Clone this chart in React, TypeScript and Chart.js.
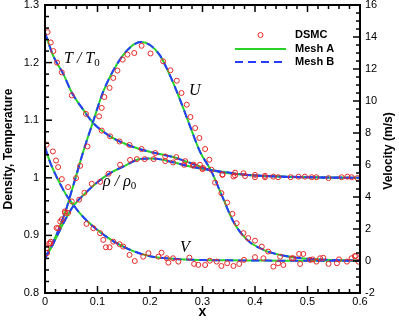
import React, { useEffect, useRef } from 'react';
import { Chart, registerables } from 'chart.js';
Chart.register(...registerables);

// ---- axis ticks ----
const xTicks = [0, 0.1, 0.2, 0.3, 0.4, 0.5, 0.6];
const leftTicks = [0.8, 0.9, 1.0, 1.1, 1.2, 1.3];
const rightTicks = [-2, 0, 2, 4, 6, 8, 10, 12, 14, 16];

// ---- Mesh curves ----
const tX = [0, 0.016, 0.035, 0.051, 0.073, 0.092, 0.124, 0.15, 0.181, 0.21, 0.244, 0.27, 0.31, 0.35, 0.4, 0.45, 0.5, 0.55, 0.6];
const tLine = [1.252, 1.211, 1.18, 1.148, 1.118, 1.095, 1.072, 1.06, 1.0496, 1.043, 1.036, 1.028, 1.015, 1.009, 1.004, 1.0023, 1.001, 1.0003, 1.0];

const rX = [0, 0.016, 0.035, 0.054, 0.073, 0.098, 0.124, 0.15, 0.181, 0.2, 0.22, 0.244, 0.27, 0.31, 0.35, 0.4, 0.45, 0.5, 0.6];
const rLine = [0.86, 0.886, 0.921, 0.951, 0.97, 0.991, 1.008, 1.02, 1.0325, 1.0335, 1.032, 1.027, 1.021, 1.014, 1.008, 1.004, 1.002, 1.001, 1.0];

const uX = [0, 0.01, 0.02, 0.03, 0.041, 0.05, 0.06, 0.073, 0.092, 0.111, 0.137, 0.162, 0.183, 0.2, 0.219, 0.238, 0.257, 0.276, 0.295, 0.317, 0.34, 0.359, 0.384, 0.416, 0.448, 0.479, 0.51, 0.543, 0.6];
const uLine = [0.2, 0.8, 1.5, 2.3, 3.3, 4.3, 5.4, 6.85, 8.75, 10.6, 12.3, 13.35, 13.68, 13.5, 12.85, 11.6, 10.1, 8.45, 6.85, 5.6, 3.85, 2.45, 1.35, 0.7, 0.38, 0.21, 0.12, 0.07, 0.03];

const vX = [0, 0.01, 0.02, 0.03, 0.04, 0.054, 0.07, 0.092, 0.118, 0.143, 0.168, 0.2, 0.25, 0.3, 0.35, 0.4, 0.45, 0.5, 0.55, 0.6];
const vLine = [7.1, 6.15, 5.4, 4.75, 4.15, 3.5, 2.85, 2.15, 1.49, 1.0, 0.62, 0.3, 0.12, 0.06, 0.04, 0.03, 0.02, 0.02, 0.01, 0.01];

// ---- DSMC points ----
const tDsmcX = [0.005, 0.011, 0.016, 0.023, 0.032, 0.051, 0.078, 0.108, 0.124, 0.142, 0.161, 0.184, 0.21, 0.229, 0.25, 0.267, 0.283, 0.301, 0.317, 0.338, 0.362, 0.378, 0.4, 0.419, 0.435, 0.468, 0.495, 0.517, 0.565, 0.584];
const tDsmc = [1.253, 1.235, 1.22, 1.2, 1.183, 1.143, 1.111, 1.082, 1.072, 1.063, 1.057, 1.05, 1.043, 1.037, 1.036, 1.029, 1.023, 1.017, 1.014, 1.006, 1.009, 1.008, 1.005, 1.0035, 1.002, 1.001, 1.002, 1.001, 1.001, 1.001];

const rDsmcX = [0.003, 0.008, 0.011, 0.022, 0.029, 0.038, 0.044, 0.065, 0.075, 0.089, 0.105, 0.121, 0.143, 0.162, 0.175, 0.19, 0.207, 0.229, 0.244, 0.265, 0.282, 0.295, 0.3, 0.338, 0.359, 0.362, 0.381, 0.4, 0.419, 0.444, 0.483, 0.508, 0.54, 0.576, 0.595];
const rDsmc = [0.878, 0.886, 0.889, 0.913, 0.924, 0.939, 0.939, 0.962, 0.974, 0.9896, 0.993, 1.007, 1.0226, 1.031, 1.0325, 1.0325, 1.0325, 1.029, 1.0266, 1.0226, 1.021, 1.0226, 1.015, 1.005, 1.0023, 1.004, 1.003, 1.001, 1.001, 1.001, 1.002, 1.001, 0.9995, 1.002, 0.9995];

const uDsmcX = [0.004, 0.01, 0.025, 0.032, 0.038, 0.059, 0.067, 0.081, 0.103, 0.108, 0.113, 0.123, 0.13, 0.138, 0.148, 0.157, 0.17, 0.184, 0.201, 0.225, 0.239, 0.251, 0.26, 0.27, 0.277, 0.286, 0.294, 0.305, 0.313, 0.324, 0.336, 0.347, 0.357, 0.365, 0.378, 0.387, 0.4, 0.413, 0.425, 0.448, 0.47, 0.484, 0.492, 0.51, 0.53, 0.56, 0.59];
const uDsmc = [0.5, 1.1, 2.05, 2.6, 3.1, 5.18, 5.95, 7.16, 9.04, 9.57, 10.25, 10.82, 11.44, 11.9, 12.59, 12.9, 13.0, 13.45, 12.97, 12.48, 11.92, 11.27, 10.5, 9.77, 9.0, 8.31, 7.69, 7.0, 6.33, 4.9, 4.24, 3.65, 2.95, 2.36, 1.74, 1.43, 1.27, 0.9, 0.59, 0.27, 0.17, 0.44, 0.44, 0.1, 0.2, 0.1, 0.3];

const vDsmcX = [0.003, 0.015, 0.021, 0.025, 0.032, 0.044, 0.051, 0.079, 0.092, 0.105, 0.111, 0.116, 0.123, 0.13, 0.142, 0.149, 0.161, 0.171, 0.187, 0.197, 0.216, 0.222, 0.232, 0.235, 0.244, 0.254, 0.275, 0.284, 0.292, 0.305, 0.314, 0.327, 0.336, 0.347, 0.359, 0.37, 0.379, 0.4, 0.416, 0.435, 0.444, 0.454, 0.473, 0.486, 0.505, 0.517, 0.524, 0.54, 0.556, 0.575, 0.584, 0.592, 0.597];
const vDsmc = [7.27, 6.85, 6.28, 5.87, 5.12, 4.62, 3.72, 2.32, 2.05, 1.74, 1.32, 0.86, 0.86, 1.21, 1.05, 0.9, 0.38, 0.0, 0.27, 0.49, 0.27, 0.52, 0.17, -0.1, 0.17, -0.04, 0.21, -0.18, -0.24, -0.25, 0.02, -0.04, -0.31, -0.14, -0.31, -0.18, 0.07, 0.24, 0.17, -0.35, -0.14, -0.25, 0.17, -0.18, 0.07, -0.04, 0.17, -0.18, -0.14, -0.04, 0.17, 0.32, -0.04];

const RED = 'rgb(232,40,40)';
const GREEN = 'rgb(40,210,40)';
const BLUE = 'rgb(40,60,255)';
const SANS = '"Liberation Sans", Arial, Helvetica, sans-serif';
const SERIF = '"Liberation Serif", "Times New Roman", serif';

const pts = (xs: number[], ys: number[]) => xs.map((x, i) => ({ x, y: ys[i] }));

function lineSet(xs: number[], ys: number[], axis: string, mesh: 'A' | 'B') {
  return {
    label: 'Mesh ' + mesh,
    data: pts(xs, ys),
    yAxisID: axis,
    showLine: true,
    pointRadius: 0,
    borderWidth: 2,
    borderColor: mesh === 'A' ? GREEN : BLUE,
    borderDash: mesh === 'A' ? [] : [8, 5],
    cubicInterpolationMode: 'monotone',
    order: mesh === 'A' ? 3 : 2,
  };
}

function dsmcSet(xs: number[], ys: number[], axis: string) {
  return {
    label: 'DSMC',
    data: pts(xs, ys),
    yAxisID: axis,
    showLine: false,
    pointRadius: 2.5,
    pointBorderWidth: 1,
    pointBorderColor: RED,
    pointBackgroundColor: 'rgba(0,0,0,0)',
    borderColor: RED,
    backgroundColor: 'rgba(0,0,0,0)',
    order: 1,
  };
}

const decor = {
  id: 'decor',
  afterDraw(chart: any) {
    const { ctx, chartArea: a, scales } = chart;
    const xs = scales.x, yl = scales.y, yr = scales.y2;
    ctx.save();
    ctx.strokeStyle = '#000';
    ctx.lineWidth = 1.5;
    const seg = (x1: number, y1: number, x2: number, y2: number) => {
      ctx.beginPath(); ctx.moveTo(x1, y1); ctx.lineTo(x2, y2); ctx.stroke();
    };
    for (let i = 0; i <= 30; i++) {
      const px = xs.getPixelForValue(i * 0.02);
      const len = i % 5 === 0 ? 7 : 4;
      seg(px, a.bottom, px, a.bottom - len);
      seg(px, a.top, px, a.top + len);
    }
    for (let i = 0; i <= 25; i++) {
      const py = yl.getPixelForValue(0.8 + i * 0.02);
      const len = i % 5 === 0 ? 7 : 4;
      seg(a.left, py, a.left + len, py);
    }
    for (let i = 0; i <= 36; i++) {
      const py = yr.getPixelForValue(-2 + i * 0.5);
      const len = i % 4 === 0 ? 7 : 4;
      seg(a.right, py, a.right - len, py);
    }
    ctx.lineWidth = 2;
    ctx.strokeRect(a.left, a.top, a.right - a.left, a.bottom - a.top);

    // right axis title
    ctx.fillStyle = '#000';
    ctx.font = 'bold 12px ' + SANS;
    ctx.textAlign = 'center';
    ctx.textBaseline = 'middle';
    ctx.save();
    ctx.translate(389, 151);
    ctx.rotate(-Math.PI / 2);
    ctx.fillText('Velocity (m/s)', 0, 0);
    ctx.restore();

    // legend
    ctx.font = 'bold 11px ' + SANS;
    ctx.textAlign = 'left';
    ctx.textBaseline = 'middle';
    ctx.strokeStyle = RED; ctx.lineWidth = 1;
    ctx.beginPath(); ctx.arc(260.5, 35, 2.5, 0, Math.PI * 2); ctx.stroke();
    ctx.fillText('DSMC', 295, 35);
    ctx.strokeStyle = GREEN; ctx.lineWidth = 2;
    seg(235, 49, 286, 49);
    ctx.fillText('Mesh A', 295, 49);
    ctx.strokeStyle = BLUE; ctx.setLineDash([8, 5]);
    seg(235, 62, 286, 62);
    ctx.setLineDash([]);
    ctx.fillText('Mesh B', 295, 62);

    // curve labels
    ctx.textBaseline = 'alphabetic';
    const lab = (main: string, sub: string, x: number, y: number) => {
      ctx.font = 'italic 16px ' + SERIF;
      ctx.fillText(main, x, y);
      if (sub) {
        const w = ctx.measureText(main).width;
        ctx.font = '11px ' + SERIF;
        ctx.fillText(sub, x + w, y + 3);
      }
    };
    lab('T / T', '0', 64, 63);
    lab('U', '', 189, 95);
    lab('\u03c1 / \u03c1', '0', 103, 186);
    lab('V', '', 180, 252);
    ctx.restore();
  },
};

export default function App() {
  const ref = useRef<HTMLCanvasElement>(null);
  useEffect(() => {
    if (!ref.current) return;
    const datasets: any[] = [
      dsmcSet(tDsmcX, tDsmc, 'y'),
      dsmcSet(rDsmcX, rDsmc, 'y'),
      dsmcSet(uDsmcX, uDsmc, 'y2'),
      dsmcSet(vDsmcX, vDsmc, 'y2'),
      lineSet(tX, tLine, 'y', 'B'),
      lineSet(rX, rLine, 'y', 'B'),
      lineSet(uX, uLine, 'y2', 'B'),
      lineSet(vX, vLine, 'y2', 'B'),
      lineSet(tX, tLine, 'y', 'A'),
      lineSet(rX, rLine, 'y', 'A'),
      lineSet(uX, uLine, 'y2', 'A'),
      lineSet(vX, vLine, 'y2', 'A'),
    ];
    const tickFont = { family: SANS, size: 11 };
    const chart = new Chart(ref.current, {
      type: 'scatter',
      data: { datasets },
      plugins: [decor],
      options: {
        responsive: false,
        animation: false,
        layout: { padding: { top: 5, left: 0, right: 0, bottom: 0 } },
        plugins: { legend: { display: false }, tooltip: { enabled: false } },
        scales: {
          x: {
            type: 'linear', min: 0, max: 0.6, position: 'bottom',
            afterBuildTicks: (s: any) => { s.ticks = xTicks.map((v) => ({ value: v })); },
            ticks: { font: tickFont, color: '#000', padding: 2, maxRotation: 0, callback: (v: any) => String(Number(v)) },
            grid: { display: false, drawTicks: false },
            border: { display: false },
            title: { display: true, text: 'x', font: { family: SANS, size: 14, weight: 'bold' }, color: '#000', padding: { top: 0, bottom: 1 } },
            afterFit: (s: any) => { s.height = 29; },
          },
          y: {
            type: 'linear', min: 0.8, max: 1.3, position: 'left',
            afterBuildTicks: (s: any) => { s.ticks = leftTicks.map((v) => ({ value: v })); },
            ticks: { font: tickFont, color: '#000', padding: 6, callback: (v: any) => String(Math.round(Number(v) * 10) / 10) },
            grid: { display: false, drawTicks: false },
            border: { display: false },
            title: { display: true, text: 'Density, Temperature', font: { family: SANS, size: 12, weight: 'bold' }, color: '#000', padding: { top: 1, bottom: 0 } },
            afterFit: (s: any) => { s.width = 45; s.paddingTop = 0; s.paddingBottom = 0; },
          },
          y2: {
            type: 'linear', min: -2, max: 16, position: 'right',
            afterBuildTicks: (s: any) => { s.ticks = rightTicks.map((v) => ({ value: v })); },
            ticks: { font: tickFont, color: '#000', padding: 5, callback: (v: any) => String(v) },
            grid: { display: false, drawTicks: false },
            border: { display: false },
            title: { display: false },
            afterFit: (s: any) => { s.width = 39; s.paddingTop = 0; s.paddingBottom = 0; },
          },
        },
      } as any,
    });
    return () => chart.destroy();
  }, []);
  return (
    <div style={{ position: 'fixed', left: 0, top: 0, width: 399, height: 322, background: '#fff' }}>
      <canvas ref={ref} width={399} height={322} style={{ display: 'block' }} />
    </div>
  );
}
